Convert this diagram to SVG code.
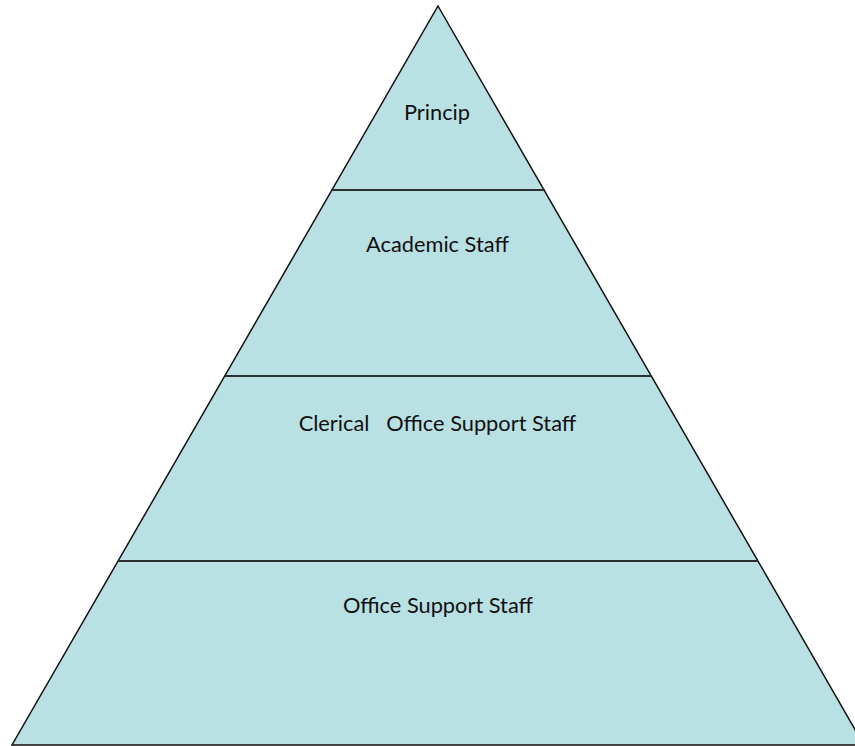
<svg xmlns="http://www.w3.org/2000/svg" width="855" height="746" viewBox="0 0 855 746">
<style>
.shape{fill:#B9E0E3;stroke:#111;stroke-width:1.5}
.div{stroke:#2a2f31;stroke-width:2}
.lbl{font-family:Lato,"Liberation Sans",sans-serif;font-size:21.8px;fill:#111;text-anchor:middle}
</style>
<rect width="855" height="746" fill="#fff"/>
<g id="pyramid">
<polygon class="shape" points="438,6 864,745 12,745"/>
</g>
<g id="connectors">
<line class="div" x1="331" y1="190" x2="545" y2="190"/>
<line class="div" x1="225" y1="376" x2="651" y2="376"/>
<line class="div" x1="118" y1="561" x2="758" y2="561"/>
</g>
<g id="n1"><text class="lbl" x="437" y="120">Princip</text></g>
<g id="n2"><text class="lbl" x="437.5" y="252">Academic Staff</text></g>
<g id="n3"><text class="lbl" x="437.5" y="431" xml:space="preserve">Clerical   Office Support Staff</text></g>
<g id="n4"><text class="lbl" x="438" y="613">Office Support Staff</text></g>
</svg>
